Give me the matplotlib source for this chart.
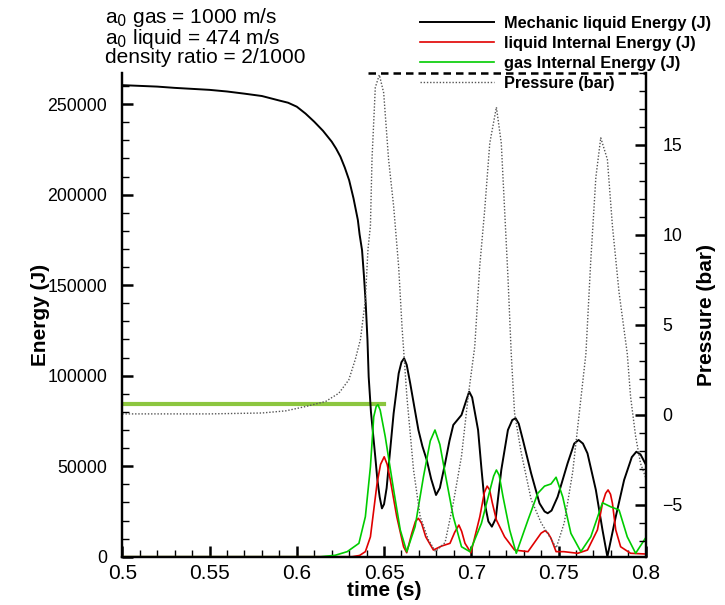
import matplotlib
matplotlib.use("Agg")
import matplotlib.pyplot as plt
import matplotlib.font_manager as fm
from matplotlib.ticker import MultipleLocator

# time (s) / energy (J) samples
t_mech = [0.5, 0.52, 0.53, 0.55, 0.56, 0.57, 0.58, 0.59, 0.595, 0.6, 0.605, 0.61,
          0.615, 0.62, 0.6225, 0.625, 0.6275, 0.63, 0.6325, 0.635, 0.636, 0.6374,
          0.6385, 0.6395, 0.6405, 0.6412, 0.6425, 0.644, 0.645, 0.6462, 0.6475,
          0.6488, 0.65, 0.6515, 0.6528, 0.6555, 0.6584, 0.66, 0.6615, 0.663, 0.665,
          0.6675, 0.6697, 0.672, 0.6745, 0.677, 0.6798, 0.682, 0.685, 0.6875,
          0.6897, 0.6944, 0.697, 0.6988, 0.7005, 0.7039, 0.7058, 0.7077, 0.7098,
          0.7118, 0.714, 0.7172, 0.721, 0.7235, 0.7254, 0.7272, 0.7296, 0.7343,
          0.7391, 0.742, 0.7438, 0.746, 0.7495, 0.7552, 0.759, 0.7615, 0.764,
          0.7666, 0.7714, 0.7752, 0.778, 0.7828, 0.7876, 0.792, 0.7946, 0.797, 0.8]
e_mech = [260500, 259700, 259000, 257900, 257000, 255800, 254500, 252000, 250800,
          248600, 244800, 240300, 235300, 229300, 225500, 221000, 215000, 208000,
          198000, 186000, 178000, 169300, 155000, 140000, 120000, 99400, 80000,
          65000, 55000, 42400, 33000, 26700, 29000, 38000, 51600, 79200, 101300,
          107500, 109600, 106000, 95800, 82000, 70000, 61000, 53400, 43000, 34100,
          38000, 51600, 64000, 72800, 78300, 86000, 91200, 88000, 70000, 49000,
          29500, 19500, 16600, 21000, 47900, 70000, 75500, 76500, 73500, 64500,
          46100, 29500, 25000, 24000, 25500, 33100, 51600, 62500, 64500, 62500,
          57100, 36900, 14800, 0, 22100, 42400, 55000, 58000, 56500, 51000]

t_liq = [0.5, 0.6317, 0.636, 0.6393, 0.6422, 0.646, 0.648, 0.6501, 0.6518, 0.6536,
         0.6573, 0.6612, 0.663, 0.6659, 0.668, 0.6697, 0.6715, 0.6739, 0.6783,
         0.683, 0.6878, 0.6905, 0.6929, 0.6945, 0.6964, 0.6998, 0.7049, 0.7075,
         0.7091, 0.7105, 0.712, 0.7144, 0.7191, 0.7248, 0.7325, 0.7372, 0.74,
         0.7423, 0.744, 0.7457, 0.7486, 0.753, 0.761, 0.7666, 0.7723, 0.7752,
         0.777, 0.7784, 0.7798, 0.7809, 0.7828, 0.7856, 0.7913, 0.8]
e_liq = [0, 0, 700, 2800, 11000, 40500, 51000, 55200, 51000, 42400, 22100, 5500,
         2200, 12900, 19500, 21200, 18500, 11000, 3700, 5900, 7400, 13500, 17500,
         14000, 7400, 2200, 22100, 35500, 39000, 37000, 30000, 20300, 11000, 3700,
         2800, 9200, 13000, 14400, 13000, 10200, 2800, 2800, 1900, 3700, 14800,
         29500, 35000, 36900, 34500, 29500, 14800, 5500, 1900, 1500]

t_gas = [0.5, 0.6137, 0.622, 0.6289, 0.6356, 0.6393, 0.6422, 0.6441, 0.6455, 0.6465,
         0.6478, 0.6507, 0.6555, 0.6593, 0.663, 0.6678, 0.6726, 0.6765, 0.6792,
         0.682, 0.685, 0.6897, 0.6944, 0.6992, 0.7058, 0.7105, 0.7128, 0.7144,
         0.716, 0.7182, 0.722, 0.7258, 0.7325, 0.7381, 0.742, 0.7457, 0.7486,
         0.7524, 0.7571, 0.7628, 0.7685, 0.7752, 0.7799, 0.7847, 0.7894, 0.7942,
         0.8]
e_gas = [0, 0, 800, 2800, 7400, 22100, 49700, 77300, 83000, 84000, 81000, 66300,
         36900, 14800, 2800, 16600, 44200, 64000, 70000, 62000, 46100, 22100, 5500,
         2800, 18400, 36000, 44500, 47900, 45000, 33100, 14800, 1900, 20300, 35000,
         39000, 40200, 43900, 33100, 12900, 2800, 11000, 29800, 27600, 25800, 11000,
         1900, 10500]

# pressure (bar), right axis
t_p = [0.5, 0.55, 0.58, 0.5937, 0.6051, 0.6165, 0.6241, 0.6298, 0.6336, 0.6365,
       0.6393, 0.6408, 0.6422, 0.6431, 0.645, 0.6473, 0.6498, 0.6526, 0.6555,
       0.6584, 0.6603, 0.6631, 0.6669, 0.6707, 0.6754, 0.6795, 0.685, 0.6897,
       0.6944, 0.6982, 0.702, 0.7048, 0.7077, 0.7106, 0.7144, 0.7172, 0.7191,
       0.721, 0.7229, 0.7248, 0.7286, 0.7343, 0.74, 0.7457, 0.7487, 0.7533,
       0.7581, 0.7619, 0.7657, 0.7685, 0.7714, 0.7742, 0.778, 0.7809, 0.7847,
       0.7894, 0.7913, 0.7942, 0.797, 0.8]
p_bar = [0.05, 0.05, 0.1, 0.22, 0.46, 0.74, 1.2, 1.94, 3.1, 4.2, 6.4, 9.2, 10.5,
         14.2, 18.2, 18.9, 17.9, 14.2, 11.6, 8.2, 4.9, 1.0, -3.06, -5.65, -6.94,
         -7.6, -7.1, -4.9, -2.3, 1.0, 3.8, 8.2, 11.4, 15.1, 17.1, 15.1, 11.4, 7.7,
         3.4, 0.1, -2.1, -4.7, -6.0, -6.9, -7.4, -6.0, -3.2, 0.1, 3.4, 8.6, 13.2,
         15.4, 14.2, 10.5, 6.8, 3.4, 1.0, -1.2, -2.7, -3.5]

# reference level line (light green)
ref_t = [0.5, 0.65]
ref_e = 84500

names = [f.name for f in fm.fontManager.ttflist]
narrow = "Liberation Sans Narrow" if "Liberation Sans Narrow" in names else "Liberation Sans"
plt.rcParams["font.family"] = ["Liberation Sans", "DejaVu Sans"]

fig = plt.figure(figsize=(7.25, 6.05), dpi=100)
ax = fig.add_axes([0.1687, 0.0798, 0.722, 0.7995])
ax2 = ax.twinx()

ax.plot(ref_t, [ref_e, ref_e], color="#8cc63f", lw=3, zorder=2)
ax.plot(t_mech, e_mech, color="black", lw=1.4, label="Mechanic liquid Energy (J)", zorder=3)
ax.plot(t_liq, e_liq, color="#e00000", lw=1.2, label="liquid Internal Energy (J)", zorder=3)
ax.plot(t_gas, e_gas, color="#00cc00", lw=1.2, label="gas Internal Energy (J)", zorder=3)
ax2.plot(t_p, p_bar, color="#555555", lw=1.0, ls=(0, (1, 1.3)), label="Pressure (bar)")

ax.set_xlim(0.5, 0.8)
ax.set_ylim(0, 267200)
ax2.set_ylim(-7.89, 19.0)

ax.xaxis.set_minor_locator(MultipleLocator(0.01))
ax.yaxis.set_major_locator(MultipleLocator(50000))
ax.yaxis.set_minor_locator(MultipleLocator(10000))
ax2.yaxis.set_major_locator(MultipleLocator(5))
ax2.yaxis.set_minor_locator(MultipleLocator(1))
ax.set_xticks([0.5, 0.55, 0.6, 0.65, 0.7, 0.75, 0.8])
ax.set_xticklabels(["0.5", "0.55", "0.6", "0.65", "0.7", "0.75", "0.8"])

for a in (ax, ax2):
    a.tick_params(which="major", direction="in", length=8, width=1.8, labelsize=12.8)
    a.tick_params(which="minor", direction="in", length=5, width=1.0)
    a.spines["top"].set_visible(False)
    for s in a.spines.values():
        s.set_linewidth(1.6)
ax.tick_params(axis="x", pad=5, labelsize=15)
ax.tick_params(axis="y", right=False, pad=11)
ax2.tick_params(axis="y", left=False, pad=12)

# dashed frame segment along the top
ax.axhline(267200, xmin=0.47, xmax=1.0, color="black", lw=1.8, ls=(0, (3, 2)), clip_on=False)

ax.set_xlabel("time (s)", fontsize=15, fontweight="bold", labelpad=-1)
ax.set_ylabel("Energy (J)", fontsize=15, fontweight="bold", labelpad=-2)
ax2.set_ylabel("Pressure (bar)", fontsize=15, fontweight="bold", labelpad=10)

h1, l1 = ax.get_legend_handles_labels()
h2, l2 = ax2.get_legend_handles_labels()
fig.legend(h1 + h2, l1 + l2, loc="upper left", bbox_to_anchor=(0.568, 0.987),
           frameon=False, handlelength=4.5, handletextpad=0.6, labelspacing=0.3,
           borderpad=0, prop={"family": [narrow, "Liberation Sans"], "weight": "bold", "size": 11.8})

fig.text(0.145, 0.99, "a$_0$ gas = 1000 m/s\na$_0$ liquid = 474 m/s\ndensity ratio = 2/1000",
         ha="left", va="top", fontsize=15, family=[narrow, "Liberation Sans"], linespacing=0.86)

fig.savefig("out.png", dpi=100)
